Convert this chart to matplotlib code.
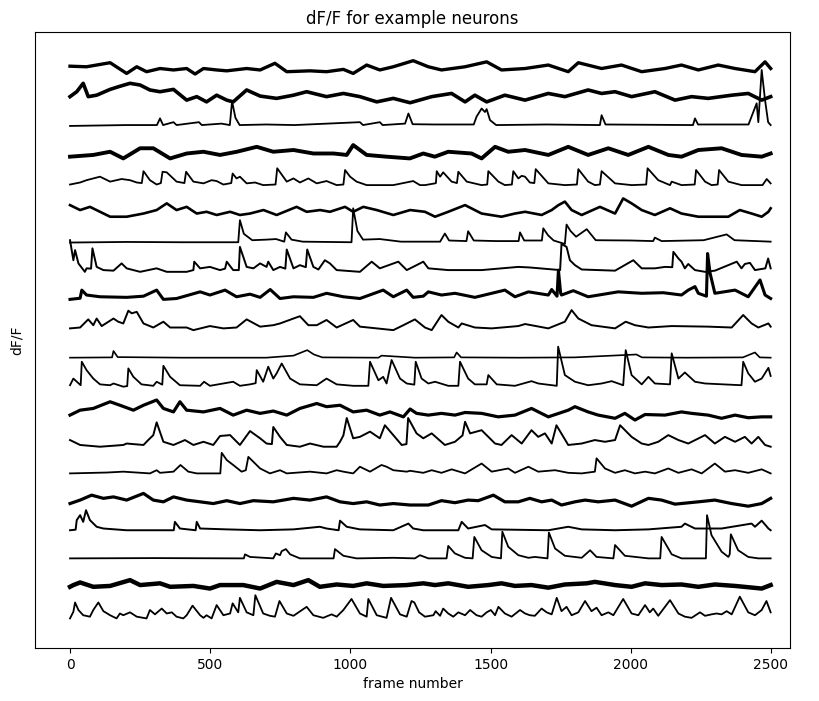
import numpy as np
import matplotlib.pyplot as plt

# (frame, dF/F) points, one list per neuron, top to bottom
neuron_01 = [(0, 0.03), (59, 0.01), (143, 0.15), (202, -0.22), (238, 0.01), (273, -0.16), (321, -0.05),
             (369, -0.10), (416, -0.05), (446, -0.24), (476, -0.05), (523, -0.10), (559, -0.13), (630, -0.05),
             (678, -0.10), (731, 0.13), (773, -0.16), (856, -0.13), (915, -0.16), (975, -0.08), (1010, -0.22),
             (1058, 0.07), (1105, -0.10), (1153, 0.01), (1224, 0.22), (1278, 0.01), (1325, -0.10), (1409, 0.01),
             (1486, 0.18), (1539, -0.10), (1623, -0.05), (1706, 0.07), (1777, -0.16), (1813, 0.15), (1896, -0.05),
             (1967, 0.07), (2039, -0.16), (2122, -0.05), (2181, 0.07), (2241, -0.10), (2312, 0.07), (2372, -0.05),
             (2443, -0.16), (2479, 0.18), (2499, -0.05)]
neuron_02 = [(0, -0.02), (24, 0.15), (47, 0.44), (65, -0.02), (95, 0.03), (143, 0.23), (172, 0.32), (214, 0.44),
             (250, 0.38), (285, 0.21), (321, 0.15), (369, 0.23), (416, -0.14), (452, -0.02), (487, -0.20),
             (523, 0.03), (559, -0.14), (582, -0.20), (630, 0.21), (678, 0.0), (737, -0.08), (797, 0.03),
             (844, 0.15), (915, -0.02), (975, 0.09), (1034, -0.02), (1094, -0.20), (1153, -0.08), (1213, -0.23),
             (1290, -0.02), (1361, 0.09), (1409, -0.20), (1444, 0.03), (1486, -0.20), (1551, 0.03), (1623, -0.14),
             (1706, 0.09), (1765, -0.02), (1848, 0.21), (1896, 0.09), (1944, 0.15), (2003, -0.02), (2086, 0.15),
             (2158, -0.14), (2217, -0.02), (2276, -0.08), (2360, 0.03), (2419, 0.09), (2467, -0.14), (2499, -0.02)]
neuron_03 = [(0, -0.03), (200, 0.0), (310, 0.0), (321, 0.23), (332, 0.0), (369, 0.1), (380, 0.0), (460, 0.1),
             (470, 0.0), (540, 0.05), (570, 0.0), (578, 0.82), (590, 0.25), (605, 0.0), (700, 0.02), (800, 0.0),
             (1034, 0.1), (1045, 0.0), (1105, 0.1), (1115, 0.0), (1195, 0.05), (1207, 0.40), (1222, 0.03),
             (1300, 0.02), (1440, 0.02), (1450, 0.29), (1468, 0.57), (1480, 0.45), (1486, 0.55), (1498, 0.17),
             (1520, 0.0), (1700, 0.02), (1890, 0.0), (1896, 0.34), (1910, 0.02), (2222, 0.0), (2229, 0.23),
             (2240, 0.02), (2420, 0.02), (2449, 0.75), (2455, 0.1), (2467, 1.90), (2479, 0.86), (2490, 0.1),
             (2499, 0.0)]
neuron_04 = [(0, -0.09), (83, -0.03), (143, 0.08), (190, -0.15), (250, 0.2), (297, 0.2), (357, -0.15),
             (416, 0.02), (476, 0.08), (535, -0.03), (595, 0.08), (666, 0.25), (725, 0.08), (797, 0.14),
             (868, 0.02), (940, 0.02), (987, -0.03), (1010, 0.31), (1058, -0.03), (1129, -0.09), (1212, -0.15),
             (1260, 0.02), (1301, -0.09), (1349, 0.08), (1432, 0.02), (1468, -0.15), (1516, 0.25), (1563, 0.08),
             (1623, 0.14), (1706, -0.03), (1777, 0.25), (1848, -0.03), (1920, 0.2), (1991, -0.03), (2063, 0.25),
             (2134, -0.03), (2181, -0.09), (2241, 0.14), (2324, 0.2), (2395, -0.03), (2467, -0.09), (2499, 0.02)]
neuron_05 = [(0, -0.05), (36, 0.02), (59, 0.1), (107, 0.22), (143, 0.05), (184, 0.14), (214, 0.1), (238, 0.02),
             (256, 0.0), (262, 0.41), (285, 0.1), (309, -0.05), (324, 0.0), (330, 0.39), (345, 0.37), (380, 0.05),
             (408, 0.0), (414, 0.39), (440, 0.05), (476, -0.01), (505, 0.1), (523, 0.07), (547, -0.05), (575, 0.0),
             (580, 0.33), (594, 0.16), (606, 0.22), (630, -0.01), (660, 0.02), (689, -0.07), (733, -0.05),
             (739, 0.51), (773, 0.05), (797, 0.16), (820, 0.02), (850, 0.16), (880, -0.01), (915, 0.07),
             (951, -0.07), (975, -0.05), (981, 0.45), (999, 0.22), (1022, 0.05), (1058, -0.07), (1153, -0.07),
             (1224, 0.07), (1248, -0.07), (1266, -0.07), (1302, -0.01), (1305, 0.0), (1308, 0.41), (1320, 0.22),
             (1331, 0.37), (1361, 0.05), (1380, 0.0), (1385, 0.39), (1415, 0.05), (1468, -0.07), (1488, -0.05),
             (1492, 0.41), (1528, 0.05), (1551, -0.07), (1576, -0.05), (1581, 0.41), (1599, 0.16), (1611, 0.25),
             (1623, 0.22), (1640, 0.02), (1656, 0.0), (1661, 0.48), (1706, -0.01), (1765, -0.07), (1808, -0.05),
             (1813, 0.48), (1848, 0.05), (1872, -0.07), (1890, -0.05), (1896, 0.41), (1944, -0.01), (2003, -0.07),
             (2055, -0.05), (2060, 0.51), (2098, 0.1), (2140, -0.07), (2146, 0.05), (2181, -0.07), (2228, -0.05),
             (2233, 0.45), (2265, 0.05), (2288, -0.07), (2310, -0.05), (2315, 0.45), (2348, 0.05), (2395, -0.07),
             (2470, -0.07), (2485, 0.14), (2499, -0.01)]
neuron_06 = [(0, 0.24), (36, 0.07), (71, 0.18), (107, 0.01), (143, -0.16), (202, -0.16), (262, -0.05),
             (309, 0.07), (345, 0.30), (380, 0.07), (416, 0.18), (452, -0.05), (487, 0.01), (523, -0.10),
             (571, 0.01), (606, -0.10), (642, -0.05), (690, 0.07), (737, -0.10), (808, 0.18), (844, 0.01),
             (892, 0.07), (927, 0.01), (981, 0.18), (1010, 0.01), (1046, 0.18), (1094, 0.07), (1153, -0.10),
             (1213, 0.07), (1266, 0.01), (1302, -0.16), (1349, 0.01), (1409, 0.24), (1468, -0.05), (1539, -0.16),
             (1587, -0.05), (1623, 0.01), (1682, -0.10), (1718, 0.07), (1742, 0.24), (1765, 0.36), (1789, 0.07),
             (1825, -0.10), (1890, 0.18), (1944, -0.05), (1973, 0.47), (2003, 0.30), (2039, 0.07), (2086, -0.10),
             (2140, 0.13), (2181, -0.05), (2241, -0.16), (2300, -0.16), (2348, -0.16), (2389, 0.07), (2431, -0.05),
             (2467, -0.16), (2491, 0.01), (2499, 0.13)]
neuron_07 = [(0, -0.05), (200, -0.03), (400, -0.04), (600, -0.04), (606, 0.72), (620, 0.25), (650, 0.03),
             (700, 0.05), (735, 0.07), (764, -0.02), (770, 0.30), (790, 0.05), (830, -0.02), (1004, -0.04),
             (1010, 1.13), (1025, 0.35), (1045, 0.05), (1105, 0.07), (1180, -0.02), (1320, -0.02), (1337, 0.26),
             (1352, 0.02), (1414, 0.0), (1420, 0.34), (1440, 0.02), (1520, 0.0), (1600, 0.0), (1605, 0.30),
             (1620, 0.02), (1683, 0.02), (1688, 0.44), (1705, 0.2), (1725, 0.02), (1765, -0.1), (1771, 0.57),
             (1785, 0.35), (1805, 0.15), (1843, 0.41), (1875, 0.03), (2000, 0.02), (2080, 0.0), (2086, 0.12),
             (2110, 0.0), (2260, 0.03), (2342, 0.23), (2370, 0.03), (2499, -0.02)]
neuron_08 = [(0, 1.03), (12, 0.34), (18, 0.69), (30, 0.23), (53, -0.06), (59, 0.06), (75, 0.05), (80, 0.75),
             (95, 0.11), (119, 0.0), (155, -0.02), (184, 0.23), (202, 0.06), (250, -0.06), (309, 0.06), (345, -0.06),
             (416, -0.06), (440, 0.0), (443, 0.29), (464, 0.06), (499, 0.11), (535, 0.0), (553, 0.05), (559, 0.29),
             (582, 0.0), (602, 0.0), (606, 0.80), (630, 0.11), (654, 0.06), (678, 0.23), (701, 0.11), (707, 0.29),
             (725, 0.0), (749, 0.11), (768, 0.05), (773, 0.71), (797, 0.06), (820, 0.17), (841, 0.1), (846, 0.71),
             (868, 0.11), (886, 0.02), (909, 0.34), (927, 0.23), (951, 0.0), (1034, -0.06), (1076, 0.29),
             (1105, 0.06), (1171, 0.29), (1201, 0.0), (1236, 0.17), (1260, 0.29), (1278, 0.06), (1349, 0.0),
             (1468, 0.0), (1599, 0.11), (1640, 0.09), (1748, 0.0), (1753, 0.90), (1771, 0.80), (1783, 0.34),
             (1801, 0.17), (1825, 0.02), (1944, -0.02), (2009, 0.34), (2039, 0.06), (2086, 0.06), (2122, 0.11),
             (2148, 0.1), (2152, 0.63), (2170, 0.40), (2181, 0.29), (2193, 0.06), (2205, 0.21), (2229, 0.0),
             (2265, -0.06), (2300, -0.02), (2378, 0.29), (2395, 0.06), (2407, 0.21), (2425, 0.25), (2443, 0.0),
             (2480, 0.06), (2490, 0.40), (2499, 0.06)]
neuron_09 = [(0, -0.01), (36, 0.03), (42, 0.31), (59, 0.14), (107, 0.08), (202, 0.06), (262, 0.10), (309, 0.31),
             (333, -0.01), (380, 0.02), (464, 0.25), (499, 0.14), (553, 0.31), (594, 0.08), (642, 0.17), (678, 0.06),
             (714, 0.33), (749, 0.02), (797, 0.08), (868, 0.06), (915, 0.20), (975, 0.08), (1034, 0.02),
             (1117, 0.31), (1153, 0.08), (1201, 0.31), (1224, 0.06), (1260, 0.10), (1278, 0.25), (1325, 0.14),
             (1373, 0.20), (1444, 0.06), (1551, 0.31), (1587, 0.08), (1635, 0.25), (1706, 0.14), (1718, 0.33),
             (1737, 0.10), (1742, 1.0), (1750, 0.2), (1753, 0.14), (1795, 0.29), (1848, 0.08), (1955, 0.25),
             (2039, 0.20), (2116, 0.22), (2181, 0.14), (2205, 0.31), (2229, 0.43), (2241, 0.20), (2270, 0.1),
             (2274, 1.57), (2283, 0.89), (2300, 0.20), (2372, 0.31), (2419, 0.08), (2461, 0.66), (2479, 0.14),
             (2499, 0.02)]
neuron_10 = [(0, -0.01), (36, 0.02), (65, 0.30), (83, 0.10), (95, 0.33), (113, 0.07), (155, 0.33), (172, 0.22),
             (190, 0.16), (208, 0.60), (220, 0.51), (238, 0.56), (262, 0.16), (297, 0.02), (333, 0.22), (357, 0.02),
             (416, 0.02), (440, -0.07), (499, 0.07), (547, -0.01), (594, 0.02), (630, 0.30), (678, 0.05),
             (725, 0.10), (749, 0.16), (797, 0.33), (820, 0.41), (850, 0.10), (880, 0.10), (915, 0.28), (951, 0.02),
             (1010, 0.28), (1034, 0.05), (1094, -0.01), (1153, -0.07), (1189, 0.10), (1230, 0.30), (1266, 0.02),
             (1290, -0.07), (1325, 0.45), (1349, 0.22), (1385, 0.02), (1397, 0.16), (1444, 0.02), (1504, -0.01),
             (1599, 0.07), (1623, 0.14), (1706, -0.01), (1765, 0.22), (1789, 0.62), (1813, 0.33), (1860, 0.10),
             (1944, -0.01), (1982, 0.22), (2015, 0.10), (2063, 0.02), (2146, 0.07), (2276, 0.05), (2360, 0.02),
             (2401, 0.45), (2431, 0.16), (2455, 0.02), (2491, 0.16), (2499, 0.05)]
neuron_11 = [(0, -0.02), (150, -0.01), (155, 0.21), (170, 0.0), (400, -0.02), (700, -0.02), (797, 0.05),
             (846, 0.24), (870, 0.09), (900, -0.01), (1100, -0.02), (1111, 0.05), (1230, -0.02), (1370, -0.01),
             (1379, 0.16), (1395, -0.01), (1600, -0.02), (1800, -0.01), (2020, 0.09), (2040, -0.01), (2200, -0.02),
             (2400, -0.01), (2443, 0.16), (2460, -0.01), (2499, -0.02)]
neuron_12 = [(0, 0.03), (12, 0.26), (38, 0.03), (42, 0.84), (59, 0.55), (83, 0.26), (107, 0.06), (143, 0.03),
             (155, 0.09), (190, -0.02), (204, 0.0), (208, 0.61), (226, 0.32), (255, 0.06), (297, 0.01), (309, 0.15),
             (329, 0.05), (333, 0.70), (357, 0.32), (392, 0.03), (464, 0.01), (478, 0.15), (499, 0.01), (582, 0.15),
             (606, 0.01), (642, 0.06), (662, 0.1), (666, 0.55), (689, 0.15), (707, 0.67), (725, 0.26), (737, 0.44),
             (755, 0.78), (785, 0.26), (820, 0.06), (880, 0.03), (915, 0.26), (951, 0.06), (1010, 0.01),
             (1064, 0.01), (1070, 0.84), (1100, 0.20), (1117, 0.32), (1129, 0.09), (1147, 0.90), (1177, 0.26),
             (1201, 0.09), (1228, 0.05), (1233, 0.84), (1254, 0.26), (1278, 0.09), (1302, 0.15), (1349, 0.01),
             (1385, 0.01), (1391, 0.84), (1420, 0.26), (1444, 0.06), (1486, 0.06), (1492, 0.38), (1522, 0.06),
             (1587, 0.01), (1646, 0.17), (1670, 0.09), (1736, 0.01), (1741, 1.36), (1765, 0.38), (1801, 0.15),
             (1848, 0.03), (1896, 0.09), (1932, 0.17), (1973, 0.03), (1982, 1.24), (2003, 0.38), (2039, 0.06),
             (2063, 0.32), (2086, 0.09), (2140, 0.06), (2146, 1.13), (2170, 0.26), (2193, 0.47), (2229, 0.15),
             (2265, 0.09), (2395, 0.03), (2401, 0.84), (2419, 0.44), (2443, 0.15), (2467, 0.26), (2491, 0.63),
             (2499, 0.35)]
neuron_13 = [(0, 0.0), (36, 0.17), (83, 0.23), (143, 0.46), (178, 0.34), (226, 0.17), (262, 0.34), (309, 0.52),
             (333, 0.23), (369, 0.11), (392, 0.46), (416, 0.17), (476, 0.11), (535, 0.23), (582, 0.0), (630, 0.17),
             (678, 0.06), (725, 0.14), (773, 0.0), (820, 0.23), (880, 0.40), (915, 0.29), (963, 0.34), (1010, 0.11),
             (1058, 0.17), (1105, 0.0), (1141, 0.11), (1189, -0.06), (1213, 0.21), (1236, 0.06), (1278, 0.0),
             (1325, 0.06), (1373, 0.0), (1409, 0.09), (1468, 0.06), (1527, -0.06), (1587, 0.0), (1646, 0.23),
             (1706, -0.06), (1777, 0.17), (1801, 0.29), (1848, 0.11), (1884, 0.0), (1944, -0.11), (1979, 0.06),
             (2015, -0.17), (2051, 0.02), (2122, 0.0), (2181, 0.11), (2217, 0.06), (2276, 0.0), (2324, -0.11),
             (2372, 0.0), (2419, -0.09), (2467, -0.06), (2499, -0.06)]
neuron_14 = [(0, 0.14), (36, -0.03), (107, -0.09), (190, -0.03), (202, 0.02), (262, -0.03), (279, 0.14),
             (297, 0.31), (309, 0.75), (333, 0.08), (369, -0.03), (410, 0.14), (440, -0.03), (476, 0.08),
             (511, -0.03), (535, 0.28), (571, 0.31), (606, -0.03), (642, 0.45), (678, 0.20), (701, 0.02), (720, 0.0),
             (725, 0.59), (749, 0.25), (773, -0.03), (820, -0.09), (856, 0.02), (904, -0.09), (951, -0.09),
             (963, 0.08), (975, 0.3), (987, 0.9), (1010, 0.20), (1034, 0.25), (1070, 0.43), (1105, 0.20),
             (1123, 0.65), (1153, 0.31), (1183, -0.03), (1200, 0.0), (1206, 0.9), (1236, 0.37), (1260, 0.20),
             (1290, 0.37), (1337, -0.03), (1373, 0.08), (1400, 0.3), (1409, 0.77), (1427, 0.37), (1468, 0.48),
             (1516, 0.02), (1539, -0.03), (1575, 0.31), (1611, 0.02), (1646, 0.48), (1670, 0.25), (1694, 0.37),
             (1718, 0.02), (1735, 0.65), (1777, -0.03), (1825, 0.02), (1872, 0.14), (1908, 0.08), (1944, 0.14),
             (1962, 0.65), (2003, 0.25), (2039, 0.02), (2063, -0.03), (2098, 0.08), (2134, 0.31), (2170, 0.14),
             (2205, 0.02), (2265, 0.31), (2300, 0.02), (2336, 0.25), (2372, 0.08), (2407, 0.25), (2431, 0.02),
             (2455, 0.25), (2479, -0.03), (2499, -0.09)]
neuron_15 = [(0, -0.01), (131, 0.02), (190, 0.05), (285, -0.01), (309, 0.10), (321, 0.01), (369, 0.05),
             (394, 0.28), (422, 0.05), (452, -0.01), (536, -0.01), (541, 0.70), (559, 0.45), (582, 0.28),
             (612, 0.05), (627, 0.10), (636, 0.56), (654, 0.39), (678, 0.16), (713, -0.01), (749, 0.10),
             (773, -0.01), (856, 0.05), (915, -0.01), (951, 0.10), (975, 0.05), (1010, -0.01), (1034, 0.22),
             (1070, 0.05), (1111, 0.28), (1129, 0.22), (1153, 0.10), (1201, 0.05), (1213, 0.08), (1260, 0.01),
             (1290, 0.10), (1325, 0.01), (1361, 0.13), (1409, -0.01), (1468, 0.33), (1504, 0.05), (1563, 0.16),
             (1587, 0.01), (1635, 0.22), (1670, 0.05), (1730, 0.10), (1777, 0.01), (1825, -0.01), (1872, 0.05),
             (1878, 0.51), (1908, 0.16), (1944, 0.01), (1979, 0.10), (2015, -0.01), (2051, 0.05), (2086, -0.01),
             (2134, 0.16), (2170, 0.01), (2217, 0.13), (2253, -0.01), (2300, 0.33), (2336, 0.05), (2372, 0.10),
             (2419, 0.01), (2467, 0.13), (2499, -0.01)]
neuron_16 = [(0, -0.05), (36, 0.07), (77, 0.24), (119, 0.13), (155, 0.18), (202, 0.07), (262, 0.30), (297, 0.07),
             (333, 0.01), (369, 0.18), (416, 0.07), (464, 0.01), (511, -0.05), (559, 0.05), (606, -0.05),
             (654, 0.05), (725, 0.01), (797, 0.13), (856, 0.07), (915, 0.18), (963, 0.01), (1010, -0.05),
             (1058, 0.01), (1105, -0.10), (1153, -0.05), (1213, -0.10), (1278, -0.10), (1325, 0.05), (1373, -0.02),
             (1420, 0.07), (1456, 0.05), (1510, 0.24), (1551, 0.01), (1599, 0.01), (1640, 0.13), (1682, 0.01),
             (1718, 0.07), (1753, -0.10), (1801, 0.01), (1837, 0.07), (1884, 0.01), (1944, 0.07), (2003, -0.14),
             (2063, 0.13), (2110, 0.07), (2158, -0.07), (2241, 0.01), (2300, 0.07), (2360, -0.05), (2419, -0.14),
             (2467, -0.05), (2499, 0.13)]
neuron_17 = [(0, 0.03), (20, 0.05), (24, 0.38), (36, 0.55), (47, 0.32), (57, 0.72), (71, 0.38), (95, 0.15),
             (119, 0.09), (202, 0.03), (321, 0.03), (370, 0.03), (374, 0.32), (392, 0.09), (448, 0.03), (452, 0.32),
             (464, 0.09), (559, 0.06), (678, 0.03), (797, 0.06), (891, 0.15), (915, 0.09), (958, 0.03), (963, 0.36),
             (987, 0.15), (1034, 0.06), (1153, 0.03), (1207, 0.26), (1224, 0.09), (1260, 0.03), (1385, 0.03),
             (1397, 0.32), (1420, 0.09), (1480, 0.21), (1504, 0.06), (1706, 0.03), (1777, 0.15), (1825, 0.06),
             (1944, 0.03), (2063, 0.06), (2181, 0.15), (2193, 0.26), (2229, 0.09), (2324, 0.09), (2431, 0.26),
             (2443, 0.15), (2467, 0.36), (2491, 0.09), (2499, 0.03)]
neuron_18 = [(0, 0.06), (300, 0.07), (620, 0.06), (624, 0.20), (642, 0.11), (725, 0.06), (734, 0.23),
             (749, 0.17), (755, 0.31), (770, 0.38), (785, 0.20), (820, 0.06), (940, 0.06), (945, 0.38), (975, 0.15),
             (1022, 0.06), (1153, 0.08), (1230, 0.06), (1248, 0.17), (1278, 0.06), (1343, 0.06), (1349, 0.49),
             (1373, 0.23), (1409, 0.08), (1436, 0.06), (1442, 0.80), (1468, 0.34), (1504, 0.11), (1537, 0.06),
             (1542, 0.98), (1563, 0.46), (1599, 0.17), (1635, 0.08), (1658, 0.11), (1703, 0.06), (1708, 0.95),
             (1730, 0.40), (1765, 0.15), (1825, 0.08), (1855, 0.34), (1878, 0.11), (1938, 0.06), (1944, 0.52),
             (1979, 0.15), (2063, 0.06), (2105, 0.06), (2110, 0.80), (2146, 0.20), (2181, 0.06), (2268, 0.06),
             (2272, 1.55), (2288, 0.86), (2324, 0.29), (2348, 0.11), (2353, 0.20), (2357, 0.89), (2383, 0.34),
             (2419, 0.11), (2455, 0.06), (2499, 0.06)]
neuron_19 = [(0, 0.08), (12, 0.14), (36, 0.23), (83, 0.08), (143, 0.11), (214, 0.31), (250, 0.14), (321, 0.20),
             (357, 0.08), (440, 0.11), (499, 0.02), (535, 0.14), (618, 0.14), (678, 0.02), (737, 0.25), (797, 0.14),
             (850, 0.31), (891, 0.08), (951, 0.16), (1010, 0.11), (1058, 0.20), (1117, 0.11), (1201, 0.14),
             (1260, 0.20), (1302, 0.14), (1349, 0.20), (1420, 0.08), (1492, 0.14), (1539, 0.20), (1587, 0.11),
             (1646, 0.14), (1706, 0.05), (1765, 0.16), (1843, 0.20), (1872, 0.25), (1944, 0.14), (2003, 0.08),
             (2051, 0.20), (2110, 0.14), (2181, 0.16), (2241, 0.08), (2300, 0.16), (2372, 0.11), (2467, 0.02),
             (2499, 0.14)]
neuron_20 = [(0, -0.01), (12, 0.22), (18, 0.54), (30, 0.28), (47, 0.10), (71, 0.05), (83, 0.28), (101, 0.54),
             (119, 0.24), (143, 0.10), (166, -0.01), (178, 0.16), (190, 0.10), (214, 0.20), (238, 0.05),
             (273, -0.01), (285, 0.28), (303, 0.13), (327, 0.33), (345, 0.16), (363, 0.20), (380, 0.05),
             (404, -0.01), (416, 0.10), (437, 0.43), (464, 0.10), (476, 0.01), (487, 0.10), (505, -0.01),
             (523, 0.45), (547, 0.10), (571, 0.16), (580, 0.51), (600, 0.20), (606, 0.70), (630, 0.20), (654, 0.10),
             (661, 0.79), (689, 0.16), (713, 0.08), (731, 0.05), (747, 0.59), (773, 0.16), (797, 0.08), (844, 0.39),
             (868, 0.10), (903, 0.01), (933, 0.13), (951, 0.05), (975, 0.28), (1004, 0.66), (1034, 0.16),
             (1058, 0.05), (1064, 0.66), (1094, 0.10), (1129, 0.01), (1145, 0.70), (1177, 0.13), (1201, 0.05),
             (1218, 0.59), (1228, 0.54), (1245, 0.2), (1266, 0.05), (1296, 0.10), (1304, 0.24), (1320, 0.08),
             (1331, 0.33), (1349, 0.16), (1367, 0.05), (1385, 0.20), (1409, 0.10), (1427, 0.28), (1450, 0.10),
             (1468, 0.05), (1486, 0.20), (1501, 0.28), (1516, 0.10), (1528, 0.39), (1551, 0.16), (1575, 0.05),
             (1605, 0.28), (1623, 0.16), (1640, 0.10), (1658, 0.08), (1682, 0.33), (1700, 0.20), (1718, 0.13),
             (1736, 0.70), (1753, 0.24), (1771, 0.39), (1789, 0.10), (1813, 0.20), (1837, 0.59), (1860, 0.24),
             (1878, 0.36), (1896, 0.10), (1920, 0.20), (1938, 0.10), (1973, 0.66), (2003, 0.16), (2027, 0.10),
             (2051, 0.45), (2068, 0.20), (2080, 0.33), (2098, 0.08), (2140, 0.62), (2170, 0.16), (2193, 0.05),
             (2217, 0.01), (2247, 0.20), (2265, 0.08), (2288, 0.13), (2306, 0.16), (2324, 0.13), (2342, 0.24),
             (2360, 0.13), (2389, 0.74), (2419, 0.20), (2443, 0.10), (2467, 0.28), (2484, 0.59), (2499, 0.20)]

neurons = [neuron_01, neuron_02, neuron_03, neuron_04, neuron_05, neuron_06, neuron_07, neuron_08, neuron_09,
           neuron_10, neuron_11, neuron_12, neuron_13, neuron_14, neuron_15, neuron_16, neuron_17, neuron_18,
           neuron_19, neuron_20]

# noisy traces look like a thick band in the reference
line_widths = [2.4, 2.6, 1.3, 2.8, 1.3, 1.9, 1.3, 1.4, 2.2, 1.4, 1.2, 1.3, 2.3, 1.4, 1.3, 2.3, 1.4, 1.3, 3.2, 1.3]

fig = plt.figure(figsize=(8.19, 7.01), dpi=100)
ax = fig.add_axes([0.0427, 0.0756, 0.9219, 0.8788])

n = len(neurons)
for i, pts in enumerate(neurons):
    arr = np.array(sorted(pts))
    ax.plot(arr[:, 0], arr[:, 1] + (n - 1 - i), color="k", lw=line_widths[i])

ax.set_xlim(-125, 2568)
ax.set_ylim(-1.03, 20.21)
ax.set_yticks([])
ax.set_title("dF/F for example neurons")
ax.set_xlabel("frame number")
ax.set_ylabel("dF/F", labelpad=8)

fig.savefig("out.png", dpi=100)
